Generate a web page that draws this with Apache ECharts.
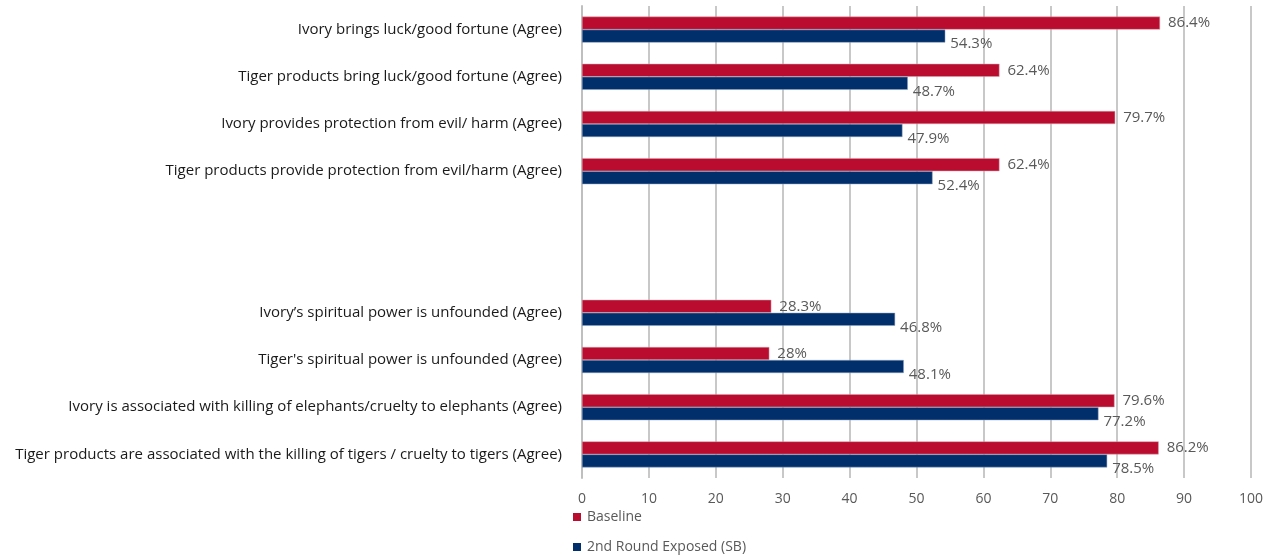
<!DOCTYPE html>
<html><head><meta charset="utf-8">
<script src="https://cdn.jsdelivr.net/npm/echarts@6/dist/echarts.min.js"></script>
<style>html,body{margin:0;padding:0;background:#fff}#c{width:1284px;height:558px}</style>
</head><body><div id="c"></div>
<script>
const categories = [
  "Ivory brings luck/good fortune (Agree)",
  "Tiger products bring luck/good fortune (Agree)",
  "Ivory provides protection from evil/ harm (Agree)",
  "Tiger products provide protection from evil/harm (Agree)",
  " ",
  "  ",
  "Ivory’s spiritual power is unfounded (Agree)",
  "Tiger's spiritual power is unfounded (Agree)",
  "Ivory is associated with killing of elephants/cruelty to elephants (Agree)",
  "Tiger products are associated with the killing of tigers / cruelty to tigers (Agree)"
];
const baseline = [86.4, 62.4, 79.7, 62.4, null, null, 28.3, 28, 79.6, 86.2];
const exposed = [54.3, 48.7, 47.9, 52.4, null, null, 46.8, 48.1, 77.2, 78.5];
const xTicks = [0, 10, 20, 30, 40, 50, 60, 70, 80, 90, 100];
const seriesNames = ["Baseline", "2nd Round Exposed (SB)"];

const font = "'Open Sans', Lato, sans-serif";
const chart = echarts.init(document.getElementById('c'));
const legendText = {fontFamily: font, fontSize: 14, color: '#595959', padding: [0,0,0,1]};
const legendItem = {borderWidth: 0};
chart.setOption({
  animation: false,
  textStyle: {fontFamily: font},
  grid: {left: 582, right: 33, top: 6, bottom: 80, containLabel: false},
  legend: [
    {left: 568, top: 505, itemWidth: 8, itemHeight: 8, icon: 'rect', itemStyle: legendItem, textStyle: legendText, data: [seriesNames[0]]},
    {left: 568, top: 535, itemWidth: 8, itemHeight: 8, icon: 'rect', itemStyle: legendItem, textStyle: legendText, data: [seriesNames[1]]}
  ],
  xAxis: {
    type: 'value', min: xTicks[0], max: xTicks[xTicks.length-1], interval: 10,
    axisLine: {show: false}, axisTick: {show: false},
    splitLine: {show: true, lineStyle: {color: '#c8c8c8', width: 2}},
    axisLabel: {fontFamily: font, fontSize: 14, color: '#595959', margin: 14}
  },
  yAxis: {
    type: 'category', inverse: true, data: categories,
    axisLine: {show: true, lineStyle: {color: '#bfbfbf', width: 2}},
    axisTick: {show: false},
    axisLabel: {fontFamily: font, fontSize: 15, color: '#1a1a1a', margin: 20}
  },
  series: [
    {
      name: seriesNames[0], type: 'bar', data: baseline,
      barWidth: 13, barGap: '0%',
      itemStyle: {color: '#BA0C2F', borderColor: '#d7a0aa', borderWidth: 0.5},
      label: {show: true, position: 'right', distance: 8, fontFamily: font, fontSize: 15, color: '#595959',
        formatter: p => p.value + '%'}
    },
    {
      name: seriesNames[1], type: 'bar', data: exposed,
      barWidth: 13, barGap: '0%',
      itemStyle: {color: '#002F6C', borderColor: '#8fa0bb', borderWidth: 0.5},
      label: {show: true, position: 'right', distance: 5, offset: [0, 8], fontFamily: font, fontSize: 15, color: '#595959',
        formatter: p => p.value + '%'}
    }
  ]
});
</script></body></html>
